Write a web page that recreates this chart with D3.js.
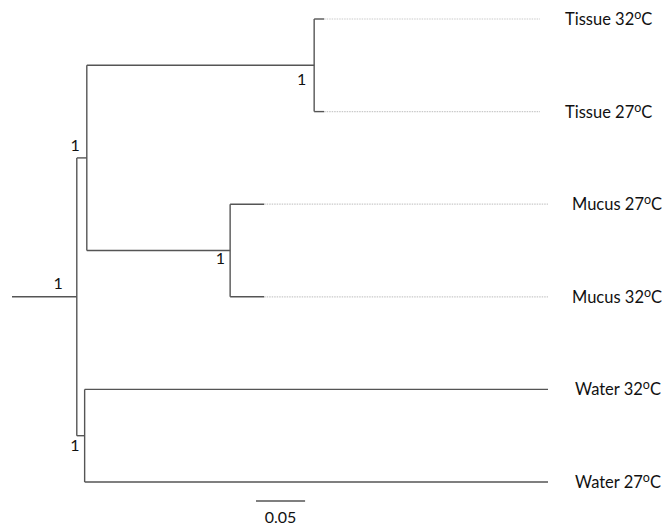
<!DOCTYPE html>
<html><head><meta charset="utf-8">
<script src="https://cdn.jsdelivr.net/npm/d3@7"></script>
<style>body{margin:0;background:#fff}svg{display:block}</style>
</head><body>
<svg id="c" width="664" height="527"></svg>
<script>
// ---- data ----
const nodeIds       = ["root","A","T","M","W","T32","T27","M27","M32","W32","W27"];
const parentIds     = [null,"root","A","A","root","T","T","M","M","W","W"];
const branchLengths = [0.066,0.0102,0.2316,0.146,0.008,0.0102,0.0102,0.0347,0.0347,0.472,0.472];
const leafGroups    = {T32:"Tissue",T27:"Tissue",M27:"Mucus",M32:"Mucus",W32:"Water",W27:"Water"};
const leafTemps     = {T32:"32",T27:"27",M27:"27",M32:"32",W32:"32",W27:"27"};
const bootstrap     = {root:1,A:1,T:1,M:1,W:1};
const scaleBarValue = 0.05;

// ---- build tree ----
const table = nodeIds.map((id,i)=>({id, parent:parentIds[i], len:branchLengths[i]}));
const root = d3.stratify().id(d=>d.id).parentId(d=>d.parent)(table);
root.eachBefore(n=>{ n.dist = (n.parent ? n.parent.dist : 0) + n.data.len; n.start = n.parent ? n.parent.dist : 0; });
const leaves = root.leaves();

const x = d3.scaleLinear().domain([0, d3.max(leaves,d=>d.dist)]).range([12, 548]);
const y = d3.scalePoint().domain(leaves.map(d=>d.id)).range([19, 482]);
root.eachAfter(n=>{ n.yy = n.children ? d3.mean([n.children[0].yy, n.children[n.children.length-1].yy]) : y(n.id); });

const svg = d3.select("#c");
const lineCol = "#555";
const sw = 1.4;
const font = "Lato, 'Open Sans', sans-serif";
const g = svg.append("g");

// horizontal branches
g.selectAll("line.h").data(root.descendants()).join("line")
  .attr("x1",d=>x(d.start)).attr("x2",d=>x(d.dist))
  .attr("y1",d=>d.yy).attr("y2",d=>d.yy)
  .attr("stroke",lineCol).attr("stroke-width",sw);
// vertical connectors
g.selectAll("line.v").data(root.descendants().filter(d=>d.children)).join("line")
  .attr("x1",d=>x(d.dist)).attr("x2",d=>x(d.dist))
  .attr("y1",d=>d.children[0].yy).attr("y2",d=>d.children[d.children.length-1].yy)
  .attr("stroke",lineCol).attr("stroke-width",sw);

// alignment dotted lines + labels (style per group)
const alignEnd = {Tissue:540, Mucus:548, Water:548};
const labelGap = {Tissue:25, Mucus:24, Water:27};
g.selectAll("line.dot").data(leaves.filter(d=>alignEnd[leafGroups[d.id]]>x(d.dist)+1)).join("line")
  .attr("x1",d=>x(d.dist)).attr("x2",d=>alignEnd[leafGroups[d.id]])
  .attr("y1",d=>d.yy).attr("y2",d=>d.yy)
  .attr("stroke","#c9c9c9").attr("stroke-width",1.2).attr("stroke-dasharray","1.5,1");

const lab = g.selectAll("text.leaf").data(leaves).join("text")
  .attr("x",d=>alignEnd[leafGroups[d.id]]+labelGap[leafGroups[d.id]])
  .attr("y",d=>d.yy+6)
  .attr("font-family",font).attr("font-size",16.5).attr("fill","#111");
lab.append("tspan").text(d=>leafGroups[d.id]+" "+leafTemps[d.id]);
lab.append("tspan").attr("font-size",12.5).attr("dy",-6).text("o");
lab.append("tspan").attr("dy",6).text("C");

// bootstrap labels
const bsPos = {root:[-14,-8], A:[-7,-7], T:[-8,20], M:[-5,13], W:[-5,15]};
g.selectAll("text.bs").data(root.descendants().filter(d=>bootstrap[d.id]!=null)).join("text")
  .attr("x",d=>x(d.dist)+bsPos[d.id][0]).attr("y",d=>d.yy+bsPos[d.id][1])
  .attr("text-anchor","end")
  .attr("font-family",font).attr("font-size",16).attr("fill","#111")
  .text(d=>bootstrap[d.id]);

// scale bar
const sb0 = 256, sbY = 501;
const sbLen = x(scaleBarValue) - x(0);
svg.append("line").attr("x1",sb0).attr("x2",sb0+sbLen).attr("y1",sbY).attr("y2",sbY)
  .attr("stroke",lineCol).attr("stroke-width",sw);
svg.append("text").attr("x",sb0+sbLen/2).attr("y",523).attr("text-anchor","middle")
  .attr("font-family",font).attr("font-size",16).attr("fill","#111")
  .text(scaleBarValue.toFixed(2));
</script>
</body></html>
